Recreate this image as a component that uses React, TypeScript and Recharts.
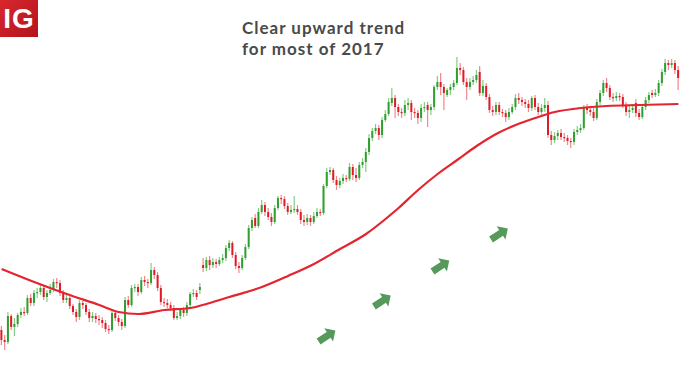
import { ComposedChart, Bar, Line, XAxis, YAxis, ReferenceDot } from 'recharts';

// daily candles (one row of ten per line)
const opens = [
  70, 60, 58, 84, 73, 76, 85, 88, 87, 102,
  97, 107, 108, 112, 103, 107, 110, 118, 117, 107,
  100, 102, 94, 88, 83, 97, 95, 88, 82, 84,
  81, 80, 77, 71, 70, 87, 82, 78, 74, 100,
  95, 112, 113, 108, 120, 118, 117, 130, 125, 112,
  98, 97, 95, 92, 82, 84, 90, 87, 95, 106,
  107, 110, 135, 132, 140, 135, 138, 136, 140, 142,
  152, 157, 145, 134, 132, 142, 153, 172, 182, 174,
  188, 195, 188, 183, 178, 192, 202, 201, 194, 188,
  190, 191, 188, 180, 178, 182, 178, 184, 188, 187,
  214, 228, 230, 220, 215, 219, 222, 221, 233, 225,
  222, 235, 238, 248, 262, 269, 272, 265, 280, 286,
  297, 302, 293, 288, 287, 295, 297, 288, 287, 282,
  292, 295, 290, 293, 313, 318, 313, 305, 310, 313,
  317, 332, 330, 318, 313, 318, 320, 328, 307, 314,
  303, 290, 288, 295, 288, 287, 283, 288, 293, 302,
  300, 298, 296, 292, 302, 293, 288, 292, 295, 265,
  260, 264, 267, 263, 262, 259, 258, 268, 270, 272,
  292, 290, 288, 282, 298, 307, 317, 312, 303, 302,
  304, 303, 295, 288, 290, 297, 287, 283, 293, 300,
  307, 305, 307, 317, 328, 337, 335, 337, 330,
];
const closes = [
  60, 58, 84, 73, 76, 85, 88, 87, 102, 97,
  107, 108, 112, 103, 107, 110, 118, 117, 107, 100,
  102, 94, 88, 83, 97, 95, 88, 82, 84, 81,
  80, 77, 71, 70, 87, 82, 78, 74, 100, 95,
  112, 113, 108, 120, 118, 117, 130, 125, 112, 98,
  97, 95, 92, 82, 84, 90, 87, 95, 106, 107,
  103, 113, 132, 140, 135, 138, 136, 140, 142, 152,
  157, 145, 134, 132, 142, 153, 172, 180, 174, 188,
  195, 188, 183, 178, 192, 202, 201, 194, 188, 190,
  191, 188, 180, 178, 182, 178, 184, 188, 187, 214,
  228, 230, 220, 215, 219, 222, 221, 233, 225, 222,
  235, 238, 248, 262, 269, 272, 265, 280, 286, 298,
  302, 293, 288, 287, 295, 297, 288, 287, 282, 292,
  293, 290, 293, 313, 318, 313, 307, 310, 313, 317,
  332, 330, 318, 313, 318, 320, 325, 307, 314, 303,
  290, 288, 295, 288, 287, 283, 288, 293, 302, 300,
  298, 296, 292, 302, 293, 288, 292, 295, 265, 260,
  264, 267, 263, 262, 259, 258, 268, 270, 272, 292,
  290, 288, 282, 298, 307, 317, 312, 303, 302, 304,
  303, 295, 288, 290, 292, 287, 283, 293, 300, 305,
  305, 307, 317, 328, 337, 335, 337, 330, 322,
];
const highs = [
  74, 65, 88, 86, 82, 87, 92, 93, 105, 106,
  110, 112, 116, 114, 110, 116, 121, 122, 120, 110,
  105, 104, 96, 91, 100, 99, 97, 91, 88, 87,
  85, 83, 80, 75, 90, 89, 85, 81, 103, 104,
  115, 116, 116, 123, 124, 121, 137, 133, 128, 115,
  102, 101, 98, 95, 88, 92, 93, 98, 108, 111,
  110, 117, 142, 143, 144, 142, 141, 143, 146, 155,
  160, 159, 148, 138, 145, 156, 175, 183, 186, 192,
  200, 198, 192, 187, 195, 204, 205, 204, 197, 195,
  204, 195, 191, 185, 186, 185, 188, 192, 191, 216,
  232, 233, 232, 224, 222, 226, 225, 237, 236, 232,
  238, 242, 252, 266, 272, 276, 275, 283, 290, 302,
  312, 305, 296, 292, 300, 302, 300, 292, 290, 296,
  298, 298, 296, 315, 324, 327, 316, 312, 316, 320,
  343, 337, 333, 322, 322, 324, 330, 334, 320, 317,
  306, 294, 298, 298, 291, 290, 292, 296, 306, 307,
  303, 301, 300, 304, 305, 297, 296, 302, 299, 269,
  268, 270, 271, 267, 265, 262, 271, 274, 276, 295,
  296, 294, 292, 301, 310, 320, 322, 315, 307, 308,
  307, 306, 298, 294, 296, 301, 291, 296, 303, 308,
  310, 311, 320, 331, 341, 340, 341, 340, 334,
];
const lows = [
  55, 50, 56, 70, 64, 73, 82, 84, 85, 94,
  94, 102, 105, 100, 98, 105, 108, 112, 104, 97,
  97, 91, 85, 78, 80, 91, 85, 78, 78, 77,
  75, 72, 68, 66, 68, 79, 74, 70, 72, 92,
  93, 108, 104, 106, 114, 112, 115, 121, 109, 95,
  93, 92, 89, 80, 80, 81, 83, 84, 92, 103,
  100, 106, 128, 129, 130, 132, 132, 134, 137, 139,
  149, 142, 131, 127, 130, 140, 151, 169, 172, 172,
  186, 184, 180, 174, 176, 190, 196, 191, 185, 186,
  187, 185, 176, 174, 175, 174, 176, 182, 184, 185,
  212, 225, 217, 210, 212, 216, 218, 219, 220, 218,
  220, 232, 228, 245, 259, 266, 260, 262, 278, 284,
  294, 282, 284, 282, 284, 290, 280, 282, 276, 278,
  288, 273, 285, 290, 310, 305, 290, 303, 305, 310,
  315, 325, 315, 300, 310, 315, 317, 304, 304, 300,
  287, 284, 285, 285, 283, 278, 280, 286, 290, 296,
  294, 292, 288, 289, 290, 285, 285, 288, 262, 255,
  257, 260, 260, 258, 255, 252, 255, 265, 267, 270,
  286, 284, 279, 280, 295, 304, 308, 300, 298, 299,
  299, 292, 284, 282, 287, 283, 280, 281, 290, 297,
  302, 303, 304, 314, 325, 330, 332, 326, 310,
];

// moving average, sampled at a few candles
const maIdx = [0, 10, 20, 30, 36, 42, 50, 58, 64, 70, 80, 88, 96, 104, 112, 118, 122, 128, 134, 140, 146, 152, 158, 164, 170, 178, 186, 196, 208];
const maVal = [131, 118, 106, 95, 88, 86, 90, 92, 97, 103, 113, 124, 136, 151, 166, 181, 192, 210, 226, 240, 254, 266, 275, 282, 288, 292, 294, 295, 296];

// trend arrows (candle index, level)
const arrowIdx = [100, 117, 135, 153];
const arrowVal = [64, 99, 134, 166];

const UP = '#2f9f2f';
const DOWN = '#e01b26';
const UP_WICK = '#86cc86';
const DOWN_WICK = '#ef8990';

const data = opens.map((o, i) => {
  const k = maIdx.indexOf(i);
  return {
    t: i,
    open: o,
    close: closes[i],
    high: highs[i],
    low: lows[i],
    range: [lows[i], highs[i]],
    ma: k >= 0 ? maVal[k] : null,
  };
});

function Candle(props: any) {
  const { x, y, width, height, payload } = props;
  if (!payload || height == null) return null;
  const { open, close, high, low } = payload;
  const top = Math.min(y, y + height);
  const h = Math.abs(height);
  const unit = high === low ? 0 : h / (high - low);
  const up = close >= open;
  const bodyTop = top + (high - Math.max(open, close)) * unit;
  const bodyH = Math.max(1.2, Math.abs(open - close) * unit);
  const cx = x + width / 2;
  return (
    <g>
      <line x1={cx} x2={cx} y1={top} y2={top + h} stroke={up ? UP_WICK : DOWN_WICK} strokeWidth={1.2} />
      <rect x={x} y={bodyTop} width={width} height={bodyH} fill={up ? UP : DOWN} />
    </g>
  );
}

function ArrowMark(props: any) {
  const { cx, cy } = props;
  if (cx == null || cy == null) return null;
  return (
    <polygon
      points="-10,-3.5 2,-3.5 2,-8 10,0 2,8 2,3.5 -10,3.5"
      fill="#56995a"
      transform={`translate(${cx},${cy}) rotate(-33)`}
    />
  );
}

const titleLine = {
  position: 'absolute' as const,
  left: 242,
  color: '#4a4a4a',
  fontFamily: 'Lato, sans-serif',
  fontWeight: 700,
  fontSize: 17,
  lineHeight: '18px',
  letterSpacing: 1,
  whiteSpace: 'nowrap' as const,
};

export default function App() {
  return (
    <div style={{ position: 'absolute', left: 0, top: 0, width: 680, height: 388, background: '#fff', overflow: 'hidden' }}>
      <ComposedChart width={680} height={388} data={data} margin={{ top: 0, right: 0, left: 0, bottom: 0 }} barCategoryGap={0.4}>
        <XAxis dataKey="t" hide />
        <YAxis hide domain={[12, 400]} allowDataOverflow />
        <Bar dataKey="range" shape={Candle} isAnimationActive={false} />
        <Line dataKey="ma" type="monotone" connectNulls dot={false} stroke="#e3252f" strokeWidth={2.2} isAnimationActive={false} />
        {arrowIdx.map((ix, i) => (
          <ReferenceDot key={ix} x={ix} y={arrowVal[i]} r={10} shape={ArrowMark} ifOverflow="visible" />
        ))}
      </ComposedChart>
      <div
        style={{
          position: 'absolute', left: 0, top: 0, width: 38, height: 37,
          background: 'linear-gradient(135deg, #d8282e, #b3131b)',
          color: '#fff', fontFamily: '"Liberation Sans", Arial, sans-serif', fontWeight: 700,
          fontSize: 28, lineHeight: '37px', textAlign: 'center', letterSpacing: 1,
        }}
      >
        IG
      </div>
      <div style={{ ...titleLine, top: 19 }}>Clear upward trend</div>
      <div style={{ ...titleLine, top: 40 }}>for most of 2017</div>
    </div>
  );
}
